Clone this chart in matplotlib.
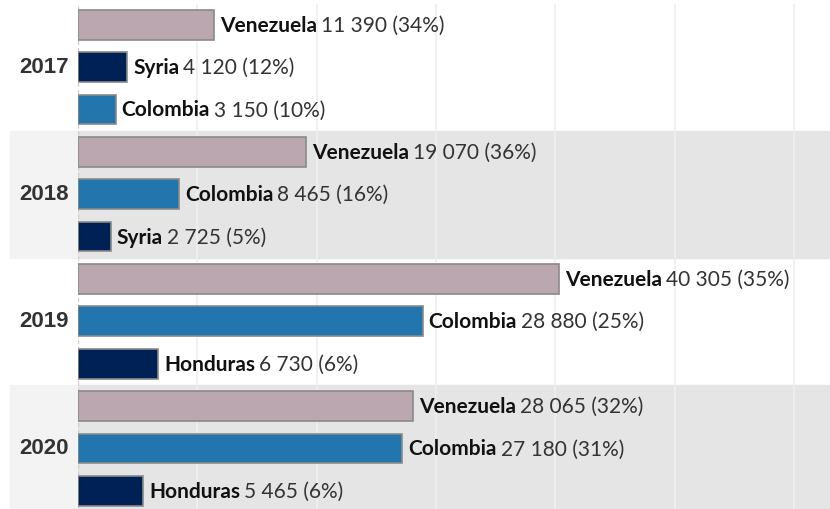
import numpy as np
import matplotlib
matplotlib.use('Agg')
import matplotlib.pyplot as plt
from matplotlib.patches import Rectangle

years = ['2017', '2018', '2019', '2020']
countries = [['Venezuela', 'Syria', 'Colombia'],
             ['Venezuela', 'Colombia', 'Syria'],
             ['Venezuela', 'Colombia', 'Honduras'],
             ['Venezuela', 'Colombia', 'Honduras']]
values = [[11390, 4120, 3150],
          [19070, 8465, 2725],
          [40305, 28880, 6730],
          [28065, 27180, 5465]]
shares = [[34, 12, 10],
          [36, 16, 5],
          [35, 25, 6],
          [32, 31, 6]]

colors = {'Venezuela': '#bba7af', 'Colombia': '#2376ad',
          'Syria': '#002155', 'Honduras': '#002155'}

W, H = 830, 509
fig = plt.figure(figsize=(W / 100, H / 100), dpi=100)
ax = fig.add_axes([78 / W, -3 / H, 752 / W, 508.5 / H])
ax.set_xlim(0, 63000)
ax.set_ylim(11.5, -0.5)

# alternating year bands
for i in range(len(years)):
    if i % 2 == 1:
        ax.axhspan(i * 3 - 0.5, i * 3 + 2.5, color='#e5e5e5', zorder=0)
        y0 = ax.transData.transform((0, i * 3 + 2.5))[1] / H
        y1 = ax.transData.transform((0, i * 3 - 0.5))[1] / H
        fig.patches.append(Rectangle((10 / W, y0), 68 / W, y1 - y0,
                                     transform=fig.transFigure,
                                     color='#f3f3f3', zorder=-1))

for x in range(10000, 70000, 10000):
    ax.axvline(x, color='#efefef', lw=1.2, zorder=1)
ax.axvline(0, color='#cfcfcf', lw=1, ls=(0, (3, 2)), zorder=1)

for sp in ax.spines.values():
    sp.set_visible(False)
ax.set_xticks([])
ax.set_yticks([])

lab_font = 'Lato'
fig.canvas.draw()
renderer = fig.canvas.get_renderer()
row = 0
for i, yr in enumerate(years):
    ax.text(-0.012, i * 3 + 1, yr, transform=ax.get_yaxis_transform(),
            ha='right', va='center', fontsize=16, fontweight='bold',
            color='#333333', family='Liberation Sans', zorder=5)
    for c, v, s in zip(countries[i], values[i], shares[i]):
        ax.barh(row, v, height=0.7, color=colors[c], edgecolor='#8a8a8a',
                lw=1.2, zorder=2)
        t = ax.annotate(c, (v, row), xytext=(6, -1), textcoords='offset pixels',
                        ha='left', va='center', fontsize=15, fontweight='bold',
                        color='#111111', family=lab_font)
        w = t.get_window_extent(renderer).width
        num = '{:,}'.format(v).replace(',', ' ')
        ax.annotate('%s (%d%%)' % (num, s), (v, row), xytext=(6 + w + 4, -1),
                    textcoords='offset pixels', ha='left', va='center',
                    fontsize=15, color='#333333', family=lab_font)
        row += 1

fig.savefig('out.png', dpi=100)
